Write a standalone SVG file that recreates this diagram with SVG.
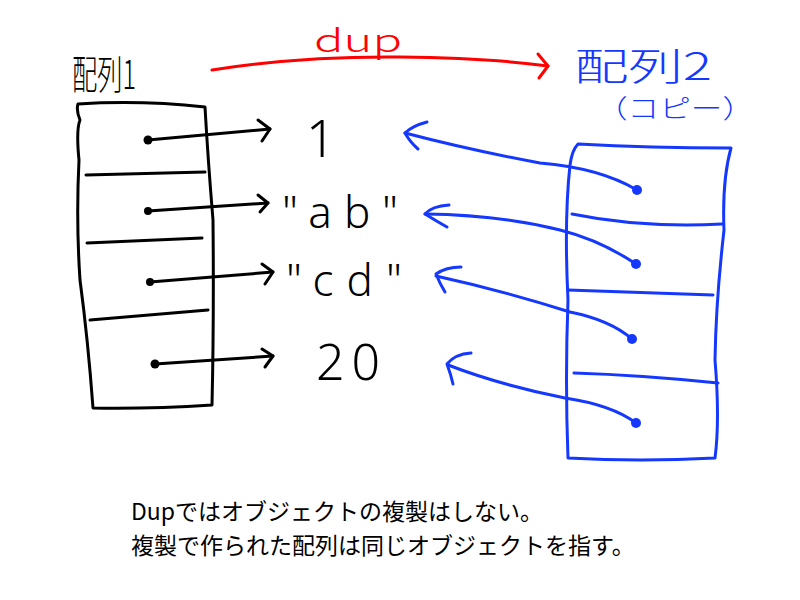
<svg xmlns="http://www.w3.org/2000/svg" width="800" height="600" viewBox="0 0 800 600">
<style>
.k{fill:none;stroke:#000;stroke-width:3;stroke-linecap:round;stroke-linejoin:round}
.b{fill:none;stroke:#1538ff;stroke-width:3;stroke-linecap:round;stroke-linejoin:round}
.r{fill:none;stroke:#ff0000;stroke-width:3;stroke-linecap:round;stroke-linejoin:round}
.dk{fill:#000}
.db{fill:#1538ff}
.hand{font-family:"Noto Sans CJK JP","Noto Sans",sans-serif;font-weight:300}
.val{font-family:"Noto Sans","DejaVu Sans",sans-serif;font-weight:300;fill:#000}
.note{font-family:"Noto Sans CJK JP","Noto Sans",sans-serif;font-size:23px;fill:#000}
</style>
<rect width="800" height="600" fill="#fff"/>

<g id="label-array1">
<text class="hand" x="72" y="89" font-size="40" textLength="64" lengthAdjust="spacingAndGlyphs" fill="#000">配列1</text>
</g>
<g id="label-dup">
<text class="hand" x="314" y="52" font-size="32" textLength="88" lengthAdjust="spacingAndGlyphs" fill="#ff0000">dup</text>
</g>
<g id="label-array2">
<text class="hand" x="574" y="80" font-size="38" textLength="138" lengthAdjust="spacingAndGlyphs" fill="#1538ff">配列2</text>
<text class="hand" x="596" y="118" font-size="26" textLength="158" lengthAdjust="spacingAndGlyphs" fill="#1538ff">（コピー）</text>
</g>

<g id="array1">
<path class="k" d="M78,104 Q140,100 205,107 Q208,160 213,220 Q214,320 212,405 Q150,409 93,408 Q88,340 80,280 Q76,220 79,160 Q76,130 80,120 Q76,110 78,104 Z"/>
<path class="k" d="M86,175 L205,172"/>
<path class="k" d="M87,243 L202,238"/>
<path class="k" d="M90,320 L208,310"/>
<circle class="dk" cx="148" cy="140" r="4.5"/>
<circle class="dk" cx="148" cy="211" r="4"/>
<circle class="dk" cx="150" cy="282" r="4"/>
<circle class="dk" cx="155" cy="364" r="4.5"/>
</g>

<g id="array2">
<path class="b" d="M578,144 Q650,148 731,148 Q722,180 724,230 Q716,300 715,360 Q720,420 715,458 Q640,462 568,458 Q565,380 568,300 Q564,220 570,165 Q572,150 578,144 Z"/>
<path class="b" d="M572,214 Q640,228 722,224"/>
<path class="b" d="M568,290 L713,295"/>
<path class="b" d="M574,373 Q640,375 718,383"/>
<circle class="db" cx="637" cy="190" r="5"/>
<circle class="db" cx="636" cy="264" r="5"/>
<circle class="db" cx="632" cy="339" r="5"/>
<circle class="db" cx="636" cy="423" r="5"/>
</g>

<g id="values">
<text class="val" x="306" y="157" font-size="52">1</text>
<text class="val" x="282" y="228" font-size="44" textLength="116" lengthAdjust="spacing">"ab"</text>
<text class="val" x="286" y="296" font-size="44" textLength="116" lengthAdjust="spacing">"cd"</text>
<text class="val" x="316" y="380" font-size="50" textLength="64" lengthAdjust="spacing">20</text>
</g>

<g id="connectors">
<path class="r" d="M212,70 Q300,56 400,57 Q490,58 548,66"/>
<path class="r" d="M538,54 L548,66 L539,78"/>
<path class="k" d="M148,140 L270,129"/>
<path class="k" d="M258,120 L270,129 L262,141"/>
<path class="k" d="M148,211 L268,203"/>
<path class="k" d="M258,195 L268,203 L260,212"/>
<path class="k" d="M150,282 L273,272"/>
<path class="k" d="M262,264 L273,272 L265,284"/>
<path class="k" d="M155,364 L273,356"/>
<path class="k" d="M262,349 L273,356 L265,367"/>
<path class="b" d="M637,190 Q600,168 540,163 Q470,150 405,133"/>
<path class="b" d="M427,122 Q412,126 405,133 Q410,142 418,149"/>
<path class="b" d="M636,264 Q600,240 560,230 Q500,215 425,214"/>
<path class="b" d="M449,205 Q432,206 425,214 Q438,222 447,227"/>
<path class="b" d="M632,339 Q610,320 570,312 Q500,290 436,276"/>
<path class="b" d="M461,267 Q446,267 436,274 Q440,284 445,292"/>
<path class="b" d="M636,423 Q612,405 565,398 Q500,385 448,365"/>
<path class="b" d="M471,353 Q455,354 447,364 Q451,375 453,384"/>
</g>

<g id="caption">
<text class="note" x="131" y="520">Dupではオブジェクトの複製はしない。</text>
<text class="note" x="131" y="554">複製で作られた配列は同じオブジェクトを指す。</text>
</g>
</svg>
